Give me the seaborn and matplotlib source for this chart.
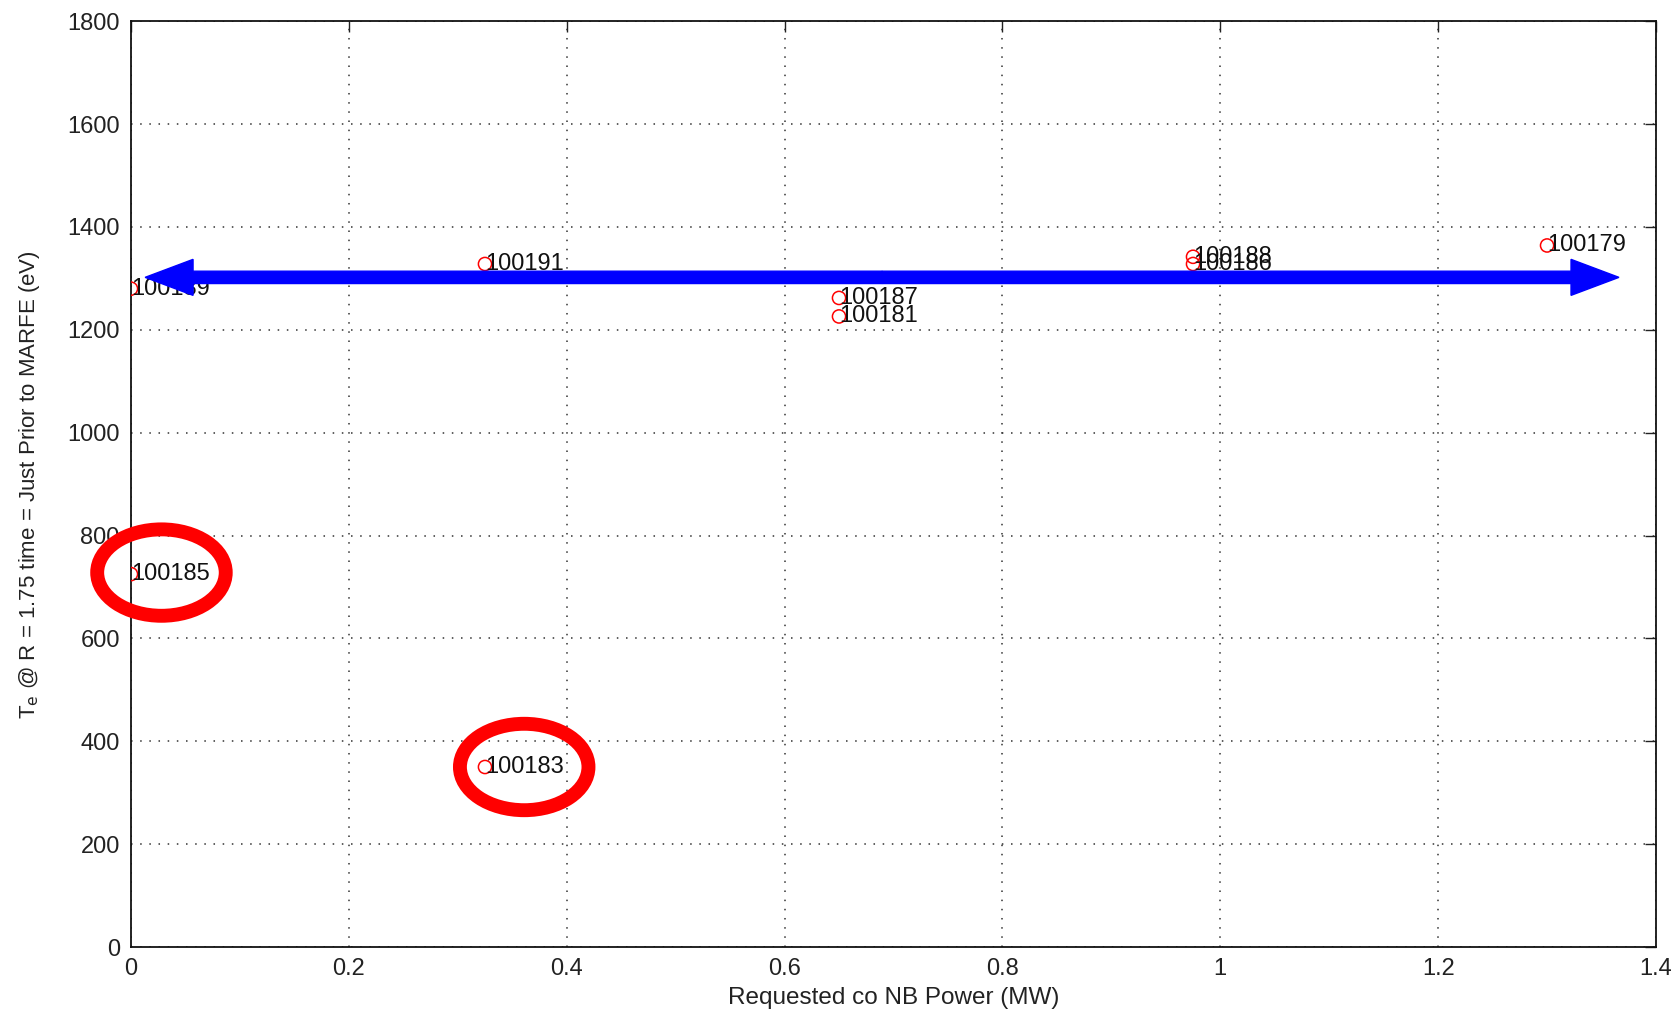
import matplotlib
matplotlib.use("Agg")
import matplotlib.pyplot as plt
from matplotlib.patches import Ellipse
import seaborn as sns
import pandas as pd

# Shot data: requested co-NB power vs. Te just before MARFE
shots = ["100189", "100185", "100191", "100183", "100187", "100181",
         "100188", "100186", "100179"]
nb_power = [0.0, 0.0, 0.325, 0.325, 0.65, 0.65, 0.975, 0.975, 1.3]
te_ev = [1280, 725, 1328, 350, 1262, 1226, 1342, 1328, 1364]

x_ticks = [0, 0.2, 0.4, 0.6, 0.8, 1.0, 1.2, 1.4]
x_tick_labels = ["0", "0.2", "0.4", "0.6", "0.8", "1", "1.2", "1.4"]
y_ticks = [0, 200, 400, 600, 800, 1000, 1200, 1400, 1600, 1800]

# Highlighted outlier shots (centre x, centre y)
circled_x = [0.028, 0.361]
circled_y = [728, 350]

# Trend arrow span
arrow_x = [0.013, 1.366]
arrow_y = 1302

df = pd.DataFrame({"power": nb_power, "te": te_ev, "shot": shots})

sns.set_style("white")
plt.rcParams["font.family"] = ["Liberation Sans", "DejaVu Sans"]

fig = plt.figure(figsize=(16.79, 10.11), dpi=100)
ax = fig.add_axes([0.078, 0.0633, 0.9083, 0.9157])

sns.scatterplot(data=df, x="power", y="te", ax=ax, marker="o", s=90,
                facecolor="none", edgecolor="red", linewidth=1.1, zorder=4)

for px, py, name in zip(nb_power, te_ev, shots):
    ax.text(px, py, name, ha="left", va="center", fontsize=17,
            color="#111111", zorder=5)

# Double-headed blue arrow drawn as two arrows from the midpoint
mid = 0.5 * (arrow_x[0] + arrow_x[1])
for end in arrow_x:
    ax.arrow(mid, arrow_y, end - mid, 0, width=24, head_width=70,
             head_length=0.044, length_includes_head=True,
             color="#0000ff", zorder=6)

for cx, cy in zip(circled_x, circled_y):
    ax.add_patch(Ellipse((cx, cy), width=0.118, height=168, fill=False,
                         edgecolor="red", linewidth=10, zorder=7,
                         clip_on=False))

ax.set_xlim(0, 1.4)
ax.set_ylim(0, 1800)
ax.set_xticks(x_ticks)
ax.set_xticklabels(x_tick_labels)
ax.set_yticks(y_ticks)
ax.tick_params(direction="in", length=8, width=1, top=True, right=True,
               labelsize=17, colors="#222222", pad=8)
ax.grid(True, linestyle=(0, (1, 5)), color="#333333", linewidth=1.1)
for s in ax.spines.values():
    s.set_color("#111111")
    s.set_linewidth(1.3)

ax.set_xlabel("Requested co NB Power (MW)", fontsize=17.5, color="#222222",
              labelpad=5)
ax.set_ylabel(r"T$_{\rm e}$ @ R = 1.75 time = Just Prior to MARFE (eV)",
              fontsize=16, color="#222222", labelpad=18)

fig.savefig("out.png", dpi=100)
